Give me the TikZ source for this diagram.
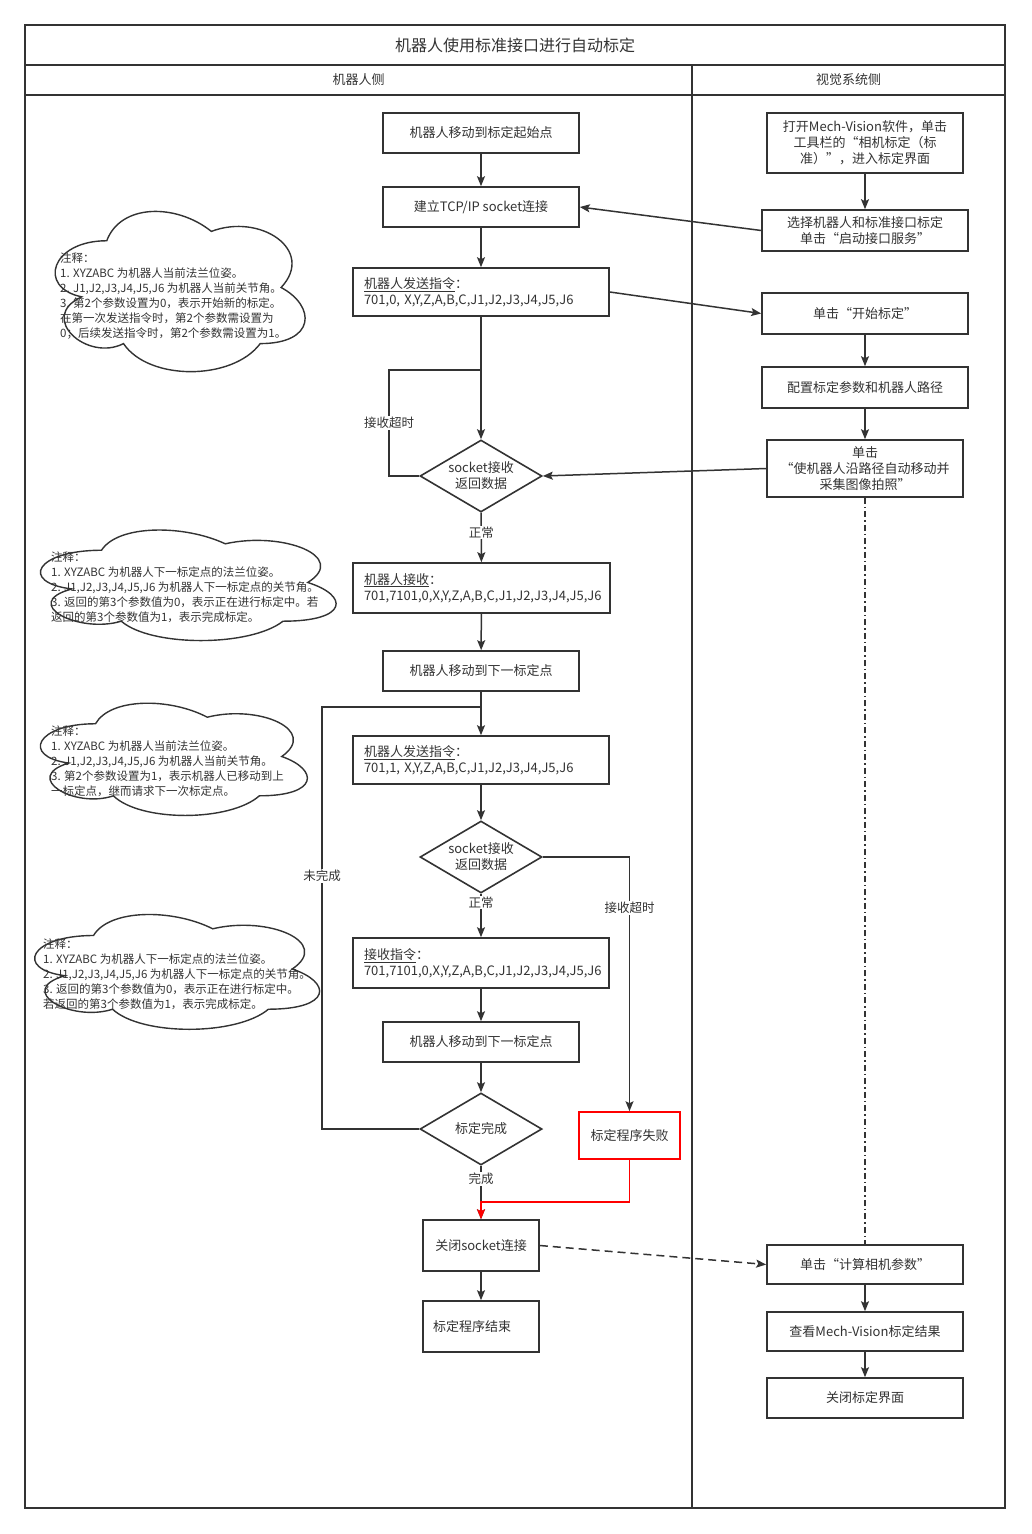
\documentclass[tikz,border=0pt]{standalone}
\usepackage{fontspec}
\setmainfont{Noto Sans CJK SC}
\usetikzlibrary{arrows.meta}
\usetikzlibrary{shapes.geometric}
\definecolor{line-gray}{RGB}{51, 51, 51}
\definecolor{text-gray}{RGB}{51, 51, 51}
\definecolor{fail-red}{RGB}{255, 0, 0}

\tikzset{
  stepbox/.style={draw=line-gray, line width=1.6pt, fill=white, text=text-gray,
    font=\fontsize{13}{16}\selectfont, align=center, inner sep=0pt},
  databox/.style={stepbox, align=left, inner xsep=11pt},
  choice/.style={diamond, aspect=1.7, draw=line-gray, line width=1.6pt, fill=white, text=text-gray,
    font=\fontsize{13}{16}\selectfont, align=center, inner sep=0pt,
    minimum width=122pt, minimum height=72pt},
  flow/.style={draw=line-gray, line width=1.5pt, -{Stealth[length=10pt, width=8pt, inset=2pt]}},
  link/.style={draw=line-gray, line width=1.5pt},
  lbl/.style={fill=white, text=text-gray, font=\fontsize{12.5}{15}\selectfont, inner sep=1pt},
  notetext/.style={text=text-gray, font=\fontsize{11.5}{15}\selectfont, align=left,
    inner sep=0pt, anchor=west},
  cloudline/.style={draw=line-gray, line width=1.4pt},
  lane/.style={draw=line-gray, line width=1.8pt},
}

\newcommand{\notecloud}[4]{%
  \begin{scope}[shift={(#1,#2)}, x=#3pt, y=-#4pt]
    \draw[cloudline] (0.25,0.25) .. controls (0.05,0.25) and (0,0.5) .. (0.16,0.55)
      .. controls (0,0.66) and (0.18,0.9) .. (0.31,0.8)
      .. controls (0.4,1) and (0.7,1) .. (0.8,0.8)
      .. controls (1,0.8) and (1,0.6) .. (0.875,0.5)
      .. controls (1,0.3) and (0.8,0.1) .. (0.625,0.2)
      .. controls (0.5,0.05) and (0.3,0.05) .. (0.25,0.25) -- cycle;
  \end{scope}}

\begin{document}
\begin{tikzpicture}[x=1pt, y=-1pt]
\useasboundingbox (0,0) rectangle (1031,1534);
\draw[lane] (25,25) rectangle (1005,1508);
\draw[lane] (25,65) -- (1005,65);
\draw[lane] (25,95) -- (1005,95);
\draw[lane] (692,65) -- (692,1508);
\node[text=text-gray, font=\fontsize{16}{19}\selectfont] (title) at (515,45) {机器人使用标准接口进行自动标定};
\node[text=text-gray, font=\fontsize{13}{16}\selectfont] (robotlane) at (358.5,80) {机器人侧};
\node[text=text-gray, font=\fontsize{13}{16}\selectfont] (visionlane) at (848.5,80) {视觉系统侧};

\notecloud{37}{194}{279}{187}
\notecloud{19}{518}{330}{129}
\notecloud{21}{691}{298}{131}
\notecloud{14}{902}{318}{134}
\node[notetext] (note1) at (60,296.5) {注释：\\1. XYZABC 为机器人当前法兰位姿。\\2. J1,J2,J3,J4,J5,J6 为机器人当前关节角。\\3. 第2个参数设置为0，表示开始新的标定。\\在第一次发送指令时，第2个参数需设置为\\0；后续发送指令时，第2个参数需设置为1。};
\node[notetext] (note2) at (51,587) {注释：\\1. XYZABC 为机器人下一标定点的法兰位姿。\\2. J1,J2,J3,J4,J5,J6 为机器人下一标定点的关节角。\\3. 返回的第3个参数值为0，表示正在进行标定中。若\\返回的第3个参数值为1，表示完成标定。};
\node[notetext] (note3) at (51,761) {注释：\\1. XYZABC 为机器人当前法兰位姿。\\2. J1,J2,J3,J4,J5,J6 为机器人当前关节角。\\3. 第2个参数设置为1，表示机器人已移动到上\\一标定点，继而请求下一次标定点。};
\node[notetext] (note4) at (43,974) {注释：\\1. XYZABC 为机器人下一标定点的法兰位姿。\\2. J1,J2,J3,J4,J5,J6 为机器人下一标定点的关节角。\\3. 返回的第3个参数值为0，表示正在进行标定中。\\若返回的第3个参数值为1，表示完成标定。};

\node[stepbox, minimum width=196pt, minimum height=40pt] (start) at (481,133) {机器人移动到标定起始点};
\node[stepbox, minimum width=196pt, minimum height=40pt] (tcp) at (481,207) {建立TCP/IP socket连接};
\node[databox, text width=234pt, minimum height=48pt] (send0) at (481,292) {\underline{机器人发送指令}：\\701,0, X,Y,Z,A,B,C,J1,J2,J3,J4,J5,J6};
\node[choice] (recv0) at (481,476) {socket接收\\返回数据};
\node[databox, text width=235pt, minimum height=50pt] (got0) at (481.5,588) {\underline{机器人接收}：\\701,7101,0,X,Y,Z,A,B,C,J1,J2,J3,J4,J5,J6};
\node[stepbox, minimum width=196pt, minimum height=40pt] (next0) at (481,671) {机器人移动到下一标定点};
\node[databox, text width=234pt, minimum height=48pt] (send1) at (481,760) {\underline{机器人发送指令}：\\701,1, X,Y,Z,A,B,C,J1,J2,J3,J4,J5,J6};
\node[choice] (recv1) at (481,857) {socket接收\\返回数据};
\node[databox, text width=234pt, minimum height=50pt] (got1) at (481,963) {\underline{接收指令}：\\701,7101,0,X,Y,Z,A,B,C,J1,J2,J3,J4,J5,J6};
\node[stepbox, minimum width=196pt, minimum height=40pt] (next1) at (481,1042) {机器人移动到下一标定点};
\node[choice] (done) at (481,1129) {标定完成};
\node[stepbox, draw=fail-red, minimum width=101pt, minimum height=47pt] (fail) at (629.5,1135.5) {标定程序失败};
\node[stepbox, minimum width=116pt, minimum height=51pt] (close) at (481,1245.5) {关闭socket连接};
\node[databox, text width=96pt, inner xsep=10pt, minimum height=51pt] (finish) at (481,1326.5) {标定程序结束};

\node[stepbox, minimum width=196pt, minimum height=60pt] (open) at (865,143) {打开Mech-Vision软件，单击\\工具栏的“相机标定（标\\准）”，进入标定界面};
\node[stepbox, minimum width=206pt, minimum height=41pt] (select) at (865,230.5) {选择机器人和标准接口标定\\单击“启动接口服务”};
\node[stepbox, minimum width=206pt, minimum height=41pt] (begin) at (865,313.5) {单击“开始标定”};
\node[stepbox, minimum width=206pt, minimum height=41pt] (config) at (865,387.5) {配置标定参数和机器人路径};
\node[stepbox, minimum width=196pt, minimum height=57pt] (auto) at (865,468.5) {单击\\“使机器人沿路径自动移动并\\采集图像拍照”};
\node[stepbox, minimum width=196pt, minimum height=39pt] (calc) at (865,1264.5) {单击“计算相机参数”};
\node[stepbox, minimum width=196pt, minimum height=39pt] (check) at (865,1331.5) {查看Mech-Vision标定结果};
\node[stepbox, minimum width=196pt, minimum height=40pt] (quit) at (865,1398) {关闭标定界面};

\draw[flow] (start) -- (tcp);
\draw[flow] (tcp) -- (send0);
\draw[flow] (send0) -- (recv0);
\coordinate (loop0) at (481,370);
\draw[link] (recv0.west) -- ++(-30,0) |- node[lbl, pos=0.25] {接收超时} (loop0);
\draw[flow] (recv0) -- node[lbl, pos=0.4] {正常} (got0);
\draw[flow] (got0) -- (next0);
\draw[flow] (next0) -- (send1);
\coordinate (loop1) at (481,707);
\draw[link] (done.west) -- ++(-97,0) |- node[lbl, pos=0.3] {未完成} (loop1);
\draw[flow] (send1) -- (recv1);
\draw[flow] (recv1) -- node[lbl, pos=0.2] {正常} (got1);
\draw[flow] (recv1.east) -| node[lbl, pos=0.6] {接收超时} (fail.north);
\draw[flow] (got1) -- (next1);
\draw[flow] (next1) -- (done);
\draw[flow] (done) -- node[lbl, pos=0.25] {完成} (close);
\coordinate (merge) at (481,1202);
\draw[flow, draw=fail-red] (fail.south) |- (merge) -- (close.north);
\draw[flow] (close) -- (finish);

\draw[flow] (open) -- (select);
\draw[flow] (begin) -- (config);
\draw[flow] (config) -- (auto);
\draw[flow] (calc) -- (check);
\draw[flow] (check) -- (quit);
\draw[link, dash pattern=on 6pt off 3pt on 1.5pt off 3pt] (auto) -- (calc);
\draw[flow] (select.west) -- (tcp.east);
\draw[flow] (send0.east) -- (begin.west);
\draw[flow] (auto.west) -- (recv0.east);
\draw[flow, dash pattern=on 8pt off 5pt] (close.east) -- (calc.west);
\end{tikzpicture}
\end{document}
